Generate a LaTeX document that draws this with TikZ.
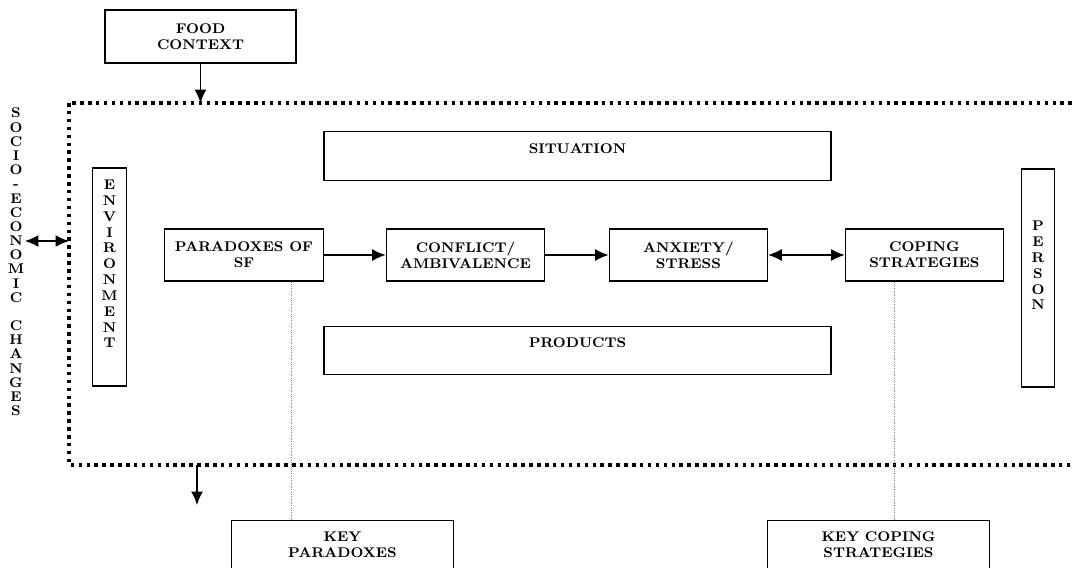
\documentclass[tikz,border=0pt]{standalone}
\usepackage{fontspec}
\usetikzlibrary{arrows.meta}
\begin{document}
\begin{tikzpicture}[
            x=0.02cm, y=-0.02cm,
            >={Latex[length=0.27cm,width=0.24cm]},
            font=\fontsize{8}{9.1}\selectfont\bfseries,
            block/.style={draw, rectangle, line width=0.7pt, align=center,
                            minimum height=1.04cm, minimum width=3.17cm},
            wide/.style={draw, rectangle, line width=0.7pt, text depth=0.3cm,
                            minimum height=0.97cm, minimum width=10.14cm},
            tall/.style={draw, rectangle, line width=0.7pt,
                            minimum height=4.36cm, minimum width=0.67cm},
            letters/.style={align=center, font=\fontsize{8}{9}\selectfont\bfseries},
            keybox/.style={draw, rectangle, line width=0.7pt, align=center, anchor=north,
                            minimum width=4.44cm, inner ysep=0.23cm, text depth=1.5cm},
            dotframe/.style={line width=2.1pt, dash pattern=on 2pt off 2.5pt},
            guide/.style={gray, line width=0.3pt, densely dotted}
        ]

            \useasboundingbox (0,0) rectangle (1073,568);
            \clip (0,0) rectangle (1073,568);

            \node[block, minimum width=3.82cm, minimum height=1.06cm] (fc) at (200.5,36.5) {FOOD\\CONTEXT};

            \node[block] (pd) at (244,255) {PARADOXES OF\\SF};
            \node[block, right of=pd, node distance=4.43cm] (cf) {CONFLICT/\\AMBIVALENCE};
            \node[block, right of=cf, node distance=4.46cm] (ax) {ANXIETY/\\STRESS};
            \node[block, right of=ax, node distance=4.72cm] (cp) {COPING\\STRATEGIES};

            \node[wide] (st) at (577.5,156) {SITUATION};
            \node[wide] (pr) at (577.5,350.5) {PRODUCTS};

            \node[tall] (env) at (109.5,277) {};
            \node[letters] (envtext) at (109.5,264) {E\\N\\V\\I\\R\\O\\N\\M\\E\\N\\T};
            \node[tall] (ps) at (1038,278) {};
            \node[letters] (pstext) at (1038,265.5) {P\\E\\R\\S\\O\\N};
            \node[letters, font=\fontsize{8}{8.07}\selectfont\bfseries] (sc) at (16,262)
                {S\\O\\C\\I\\O\\-\\E\\C\\O\\N\\O\\M\\I\\C\\~\\C\\H\\A\\N\\G\\E\\S};

            \node[keybox] (kp) at (342.5,520) {KEY\\PARADOXES};
            \node[keybox] (kc) at (878.5,520) {KEY COPING\\STRATEGIES};

            % dotted frame round the inner model
            \coordinate (fnw) at (69,103);
            \coordinate (fse) at (1090,465);
            \draw[dotframe] (fnw) rectangle (fse);

            \draw[line width=0.7pt,->] (fc) -- (fc |- fnw);
            \draw[line width=0.7pt,->] (pd) -- (cf);
            \draw[line width=0.7pt,->] (cf) -- (ax);
            \draw[line width=0.7pt,<->] (ax) -- (cp);

            \coordinate (sx) at (25,241);
            \draw[line width=0.7pt,<->] (sx) -- (sx -| fnw);
            \coordinate (dn) at (197,505);
            \draw[line width=0.7pt,->] (dn |- fse) -- (dn);

            \draw[guide] ([xshift=0.94cm]pd.south) -- ([xshift=0.94cm]pd.south |- kp.north);
            \draw[guide] ([xshift=-0.61cm]cp.south) -- ([xshift=-0.61cm]cp.south |- kc.north);

        \end{tikzpicture}
\end{document}
